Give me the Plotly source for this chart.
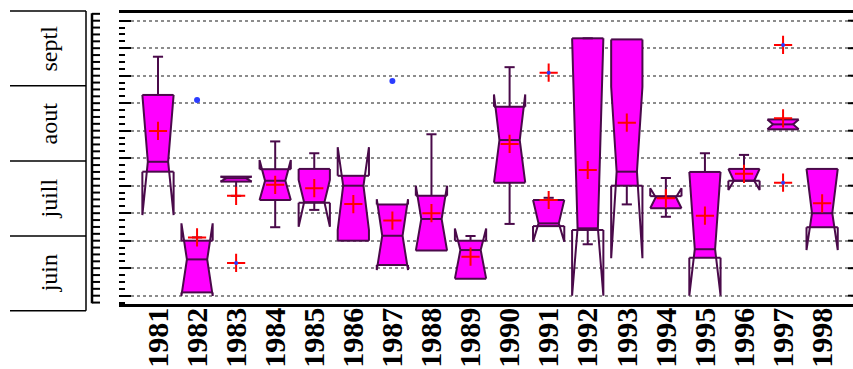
import plotly.graph_objects as go

# ---------------- data ----------------
years = [str(y) for y in range(1981, 1999)]
q1 = [45.1, 1.2, 41.5, 34.8, 33.8, 20.0, 11.2, 16.4, 6.2, 41.1, 25.3, 23.9, 40.0, 31.8, 13.8, 41.8, 60.5, 24.9]
med = [48.7, 13.2, 42.7, 41.8, 34.0, 40.0, 21.8, 27.9, 16.6, 56.6, 26.3, 24.5, 45.1, 35.8, 16.9, 41.8, 62.3, 30.0]
q3 = [73.0, 20.0, 43.3, 46.0, 46.1, 43.6, 33.2, 36.3, 20.0, 68.7, 34.8, 93.6, 93.2, 36.2, 45.0, 46.1, 64.1, 46.1]
notch_lo = [29.3, -0.1, 41.5, 34.8, 25.1, 23.9, 9.3, 16.4, 6.2, 41.1, 19.6, 0.0, 13.6, 31.8, 0.0, 38.4, 60.5, 16.6]
notch_hi = [73.0, 26.3, 43.3, 49.3, 42.1, 54.0, 35.1, 40.0, 24.4, 73.2, 34.8, 93.6, 76.0, 39.1, 45.0, 46.1, 64.1, 46.1]
whisk_hi = [86.9, 21.2, None, 56.1, 51.8, None, None, 58.7, 21.7, 83.1, 35.6, 93.6, None, 42.8, 51.8, 51.2, None, None]
whisk_lo = [None, None, 36.3, 24.9, 31.2, None, None, None, None, 26.1, None, 18.7, 33.2, 28.7, None, None, None, None]
means = [59.9, 21.2, 36.3, 40.3, 39.1, 33.3, 27.3, 30.0, 14.2, 55.2, 34.8, 45.7, 62.9, 35.4, 29.1, 44.3, 64.5, 33.6]
out_year = ["1982", "1987"]
out_val = [71.2, 78.1]
ext_year = ["1983", "1991", "1997", "1997"]
ext_val = [11.9, 81.1, 91.2, 41.1]
months = ["juin", "juill", "aout", "septl"]
month_edges = [-5.45, 21.7, 49.0, 76.3, 103.5]
grid_vals = [0, 10, 20, 30, 40, 50, 60, 70, 80, 90, 100]

# ---------------- style ----------------
W, WN, CAP = 0.4, 0.26, 0.13
EDGE = "#4a0a4a"
FILL = "#ff00ff"
Y0, Y1 = -3.02, 102.8
X0, X1 = -0.998, 17.79
PX0, PXW = 119, 734


def yp(v):
    return (v - Y0) / (Y1 - Y0)


def xp(px):
    return (px - PX0) / PXW


def half(y, nlo, m, nhi):
    if nlo < y < m:
        return W - (W - WN) * (y - nlo) / (m - nlo)
    if m < y < nhi:
        return W - (W - WN) * (nhi - y) / (nhi - m)
    if y == m:
        return WN
    return W


xidx = {y: i for i, y in enumerate(years)}
fig = go.Figure()

# fills
for i in range(len(years)):
    a, m, b, nl, nh = q1[i], med[i], q3[i], notch_lo[i], notch_hi[i]
    ys = sorted(set([a, b, m] + [v for v in (nl, nh) if a < v < b]))
    xs_l = [i - half(y, nl, m, nh) for y in ys]
    xs_r = [i + half(y, nl, m, nh) for y in reversed(ys)]
    fig.add_trace(go.Scatter(x=xs_l + xs_r, y=ys + list(reversed(ys)), fill="toself",
                             fillcolor=FILL, mode="lines", line=dict(width=0),
                             hoverinfo="skip", showlegend=False))

# outlines + whiskers
ox, oy = [], []
for i in range(len(years)):
    a, m, b, nl, nh = q1[i], med[i], q3[i], notch_lo[i], notch_hi[i]
    prof_y = [a, nl, m, nh, b]
    prof_w = [W, W, WN, W, W]
    ox += [i - w for w in prof_w] + [None]
    oy += prof_y + [None]
    ox += [i + w for w in prof_w] + [None]
    oy += prof_y + [None]
    ox += [i - W, i + W, None, i - W, i + W, None, i - WN, i + WN, None]
    oy += [a, a, None, b, b, None, m, m, None]
    if whisk_hi[i] is not None:
        ox += [i, i, None, i - CAP, i + CAP, None]
        oy += [b, whisk_hi[i], None, whisk_hi[i], whisk_hi[i], None]
    if whisk_lo[i] is not None:
        ox += [i, i, None, i - CAP, i + CAP, None]
        oy += [a, whisk_lo[i], None, whisk_lo[i], whisk_lo[i], None]
fig.add_trace(go.Scatter(x=ox, y=oy, mode="lines", line=dict(color=EDGE, width=2),
                         hoverinfo="skip", showlegend=False))

# means
fig.add_trace(go.Scatter(x=list(range(len(years))), y=means, mode="markers",
                         marker=dict(symbol="cross-thin", size=13,
                                     line=dict(color="#ff0000", width=2)),
                         showlegend=False))
# extreme values
fig.add_trace(go.Scatter(x=[xidx[y] for y in ext_year], y=ext_val, mode="markers",
                         marker=dict(symbol="cross-thin", size=13,
                                     line=dict(color="#ff0000", width=2)),
                         showlegend=False))
fig.add_trace(go.Scatter(x=[xidx[y] for y in ext_year], y=ext_val, mode="markers",
                         marker=dict(symbol="circle", size=4, color="#2b3cff"),
                         showlegend=False))
# outliers
fig.add_trace(go.Scatter(x=[xidx[y] for y in out_year], y=out_val, mode="markers",
                         marker=dict(symbol="circle", size=6, color="#2b3cff"),
                         showlegend=False))

# ---------------- decorations ----------------
shapes = []
# outer left axis
shapes.append(dict(type="line", xref="paper", yref="paper", x0=xp(92), x1=xp(92),
                   y0=yp(month_edges[0] + 2.7), y1=yp(103.5 - 0.8), line=dict(color="black", width=2.5)))
k = 0
while 102.5 - 2.5 * k >= -2.5:
    v = 102.5 - 2.5 * k
    shapes.append(dict(type="line", xref="paper", yref="paper", x0=xp(92), x1=xp(100),
                       y0=yp(v), y1=yp(v), line=dict(color="black", width=2)))
    k += 1
# month boxes
for e in month_edges:
    shapes.append(dict(type="line", xref="paper", yref="paper", x0=xp(10), x1=xp(86),
                       y0=yp(e), y1=yp(e), line=dict(color="black", width=1.5)))
shapes.append(dict(type="line", xref="paper", yref="paper", x0=xp(86), x1=xp(86),
                   y0=yp(month_edges[0]), y1=yp(month_edges[-1]), line=dict(color="black", width=1.5)))
# right ticks
for g in grid_vals:
    shapes.append(dict(type="line", xref="paper", yref="paper", x0=xp(848), x1=1.0,
                       y0=yp(g), y1=yp(g), line=dict(color="black", width=2)))

annotations = []
for j, mname in enumerate(months):
    annotations.append(dict(text=mname, xref="paper", yref="paper", x=xp(49),
                            y=yp((month_edges[j] + month_edges[j + 1]) / 2),
                            showarrow=False, textangle=-90, xanchor="center", yanchor="middle",
                            font=dict(family="Liberation Serif", size=24, color="black")))

fig.update_layout(
    width=853, height=369,
    margin=dict(l=119, r=0, t=13, b=65),
    paper_bgcolor="white", plot_bgcolor="white",
    shapes=shapes, annotations=annotations,
    xaxis=dict(range=[X0, X1], tickmode="array", tickvals=list(range(len(years))),
               ticktext=years, tickangle=-90, ticks="", showgrid=False, zeroline=False,
               showline=True, mirror=True, linecolor="black", linewidth=2.5,
               ticklabelstandoff=-11,
               tickfont=dict(family="Liberation Serif", size=30, color="black", weight="bold"),
               automargin=False),
    yaxis=dict(range=[Y0, Y1], tickmode="array", tickvals=grid_vals, showticklabels=False,
               ticks="inside", ticklen=12, tickwidth=2, tickcolor="black",
               showgrid=True, gridcolor="#8c8c8c", griddash="dot", gridwidth=2,
               zeroline=False, showline=False, automargin=False,
               minor=dict(dtick=2.5, tick0=0, ticks="inside", ticklen=6, tickwidth=2,
                          tickcolor="black", showgrid=False)),
)

fig.write_html("out.html")
